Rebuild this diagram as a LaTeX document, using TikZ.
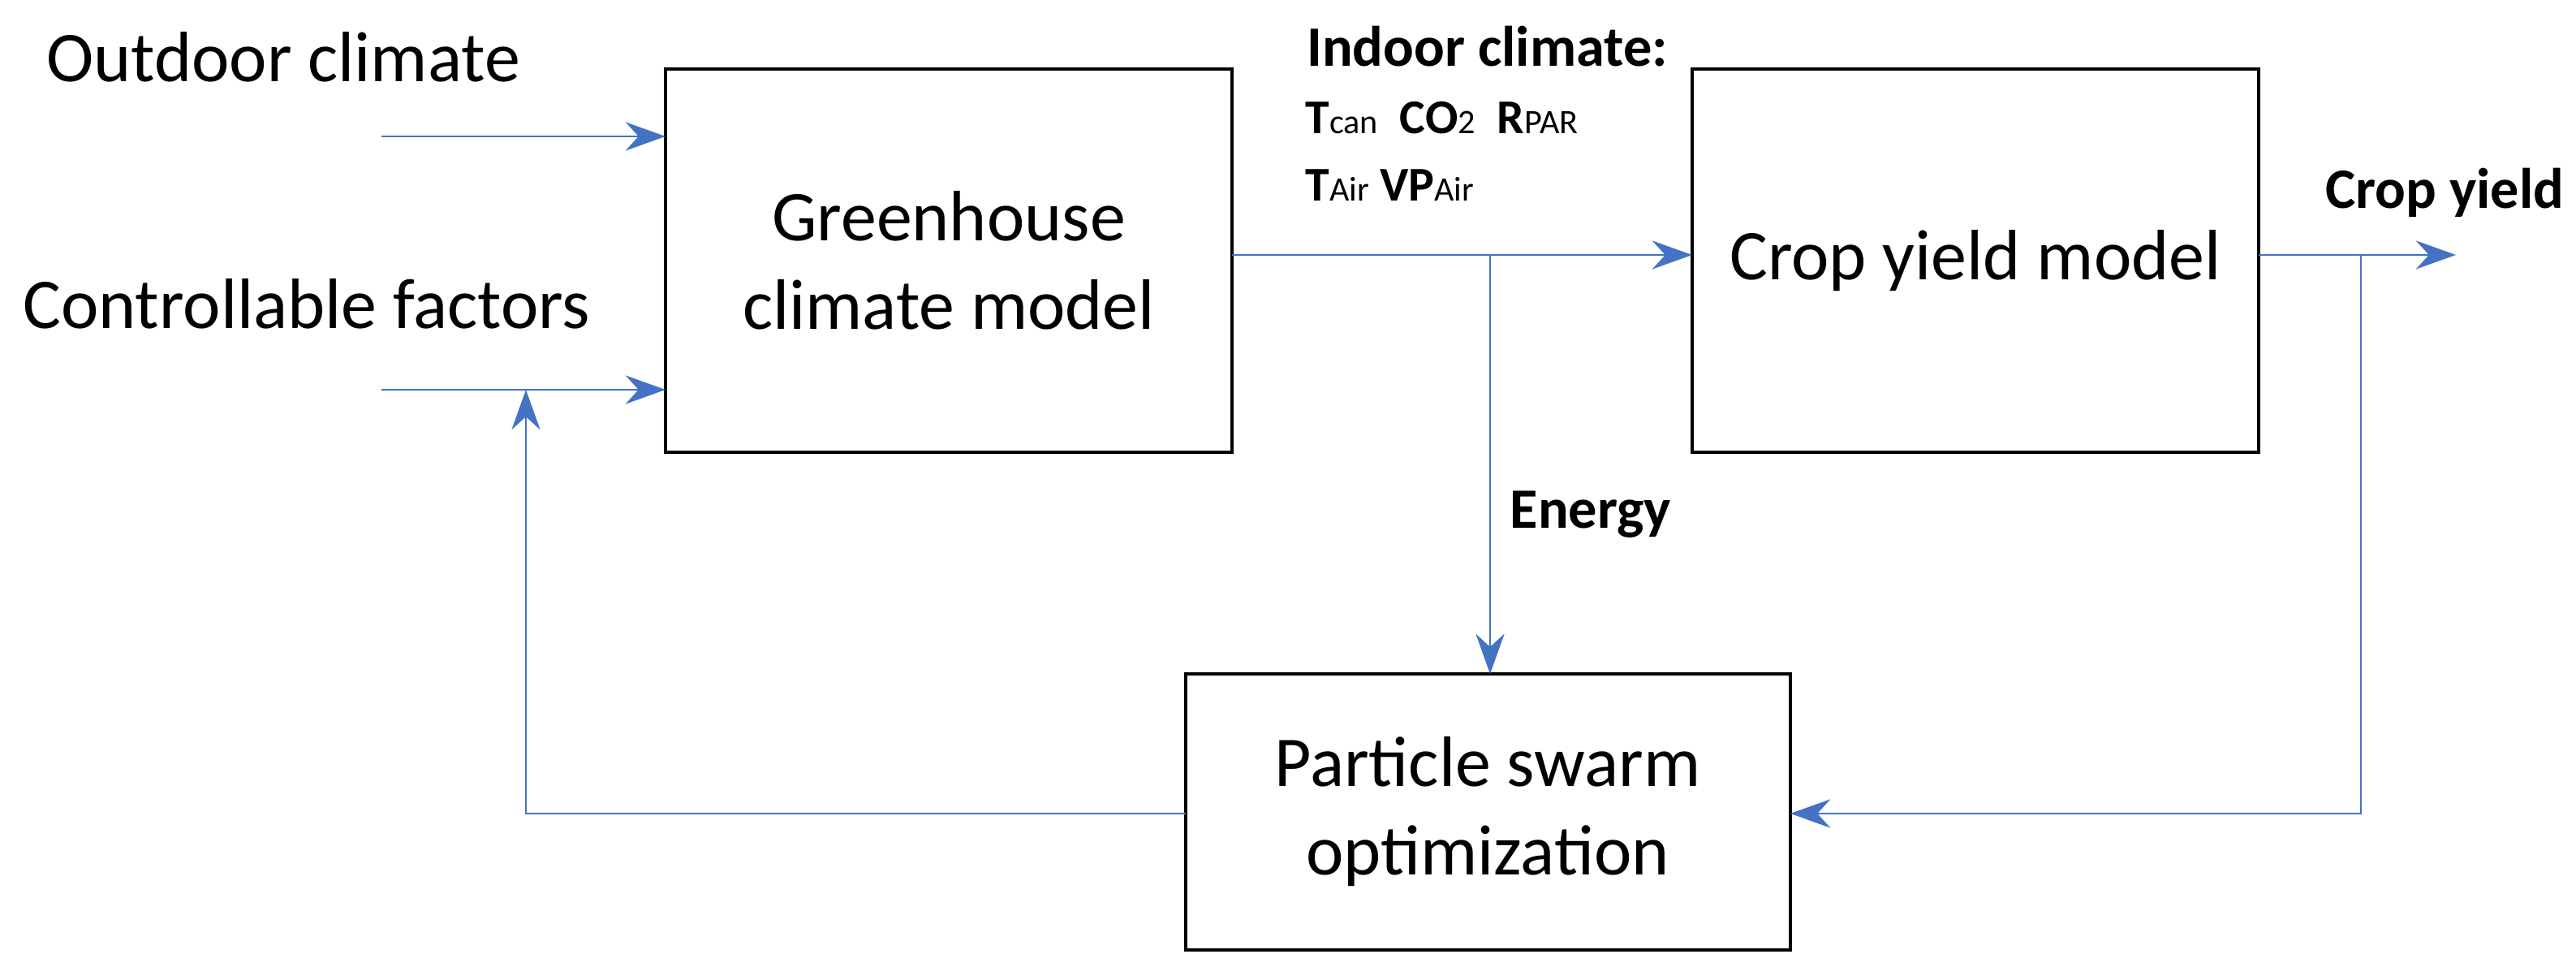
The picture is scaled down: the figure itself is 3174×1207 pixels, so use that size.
\documentclass[tikz,border=0pt]{standalone}
\usepackage{fontspec}
\setmainfont{Carlito}
\usetikzlibrary{arrows.meta}
\begin{document}
\begin{tikzpicture}[x=0.01cm,y=-0.01cm,
  box/.style={draw,line width=1.3pt,inner sep=0pt},
  big/.style={font=\fontsize{25}{31}\selectfont,align=center},
  lab/.style={font=\fontsize{20}{24}\selectfont\bfseries},
  con/.style={draw={rgb,255:red,68;green,114;blue,196},line width=0.8pt},
  arr/.style={con,-{Stealth[length=14pt,width=10pt]}}]
\useasboundingbox (0,0) rectangle (3174,1207);
\draw[box] (820,85) rectangle (1518,557);
\node[big] (ght) at (1169,321) {Greenhouse\\climate model};
\coordinate (ghw1) at (820,168); \coordinate (ghw2) at (820,480); \coordinate (ghe) at (1518,314);
\draw[box] (2085,85) rectangle (2783,557);
\node[big] (cyt) at (2434,321) {Crop yield model};
\coordinate (cyw) at (2085,314); \coordinate (cye) at (2783,314);
\draw[box] (1461,830) rectangle (2206,1170);
\node[big] (pst) at (1833,1000) {Particle swarm\\optimization};
\coordinate (psn) at (1836,830); \coordinate (psw) at (1461,1002); \coordinate (pse) at (2206,1002);
\node[big,anchor=base west] (oc) at (45,101) {Outdoor climate};
\node[big,anchor=base west] (cf) at (16,405) {Controllable factors};
\coordinate (o1) at (470,168); \coordinate (o2) at (470,480);
\draw[arr] (o1) -- (ghw1);
\draw[arr] (o2) -- (ghw2);
\coordinate (fb) at (648,480);
\draw[arr] (psw) -| (fb);
\coordinate (br1) at (1836,314);
\draw[arr] (ghe) -- (cyw);
\draw[arr] (br1) -- (psn);
\coordinate (out) at (3026,314);
\draw[arr] (cye) -- (out);
\coordinate (br2) at (2909,314);
\draw[arr] (br2) |- (pse);
\node[lab,anchor=base west] (ic) at (1598,82) {Indoor climate:};
\node[anchor=base west,font=\fontsize{17}{20}\selectfont] (v1) at (1596,165)
  {\textbf{T}{\fontsize{12}{14}\selectfont can}\ \ \textbf{CO}{\fontsize{12}{14}\selectfont 2}\ \ \textbf{R}{\fontsize{12}{14}\selectfont PAR}};
\node[anchor=base west,font=\fontsize{17}{20}\selectfont] (v2) at (1596,248)
  {\textbf{T}{\fontsize{12}{14}\selectfont Air} \textbf{VP}{\fontsize{12}{14}\selectfont Air}};
\node[lab] (en) at (1960,634) {Energy};
\node[lab,anchor=east,inner sep=0pt] (cy) at (3160,237) {Crop yield};
\end{tikzpicture}
\end{document}
